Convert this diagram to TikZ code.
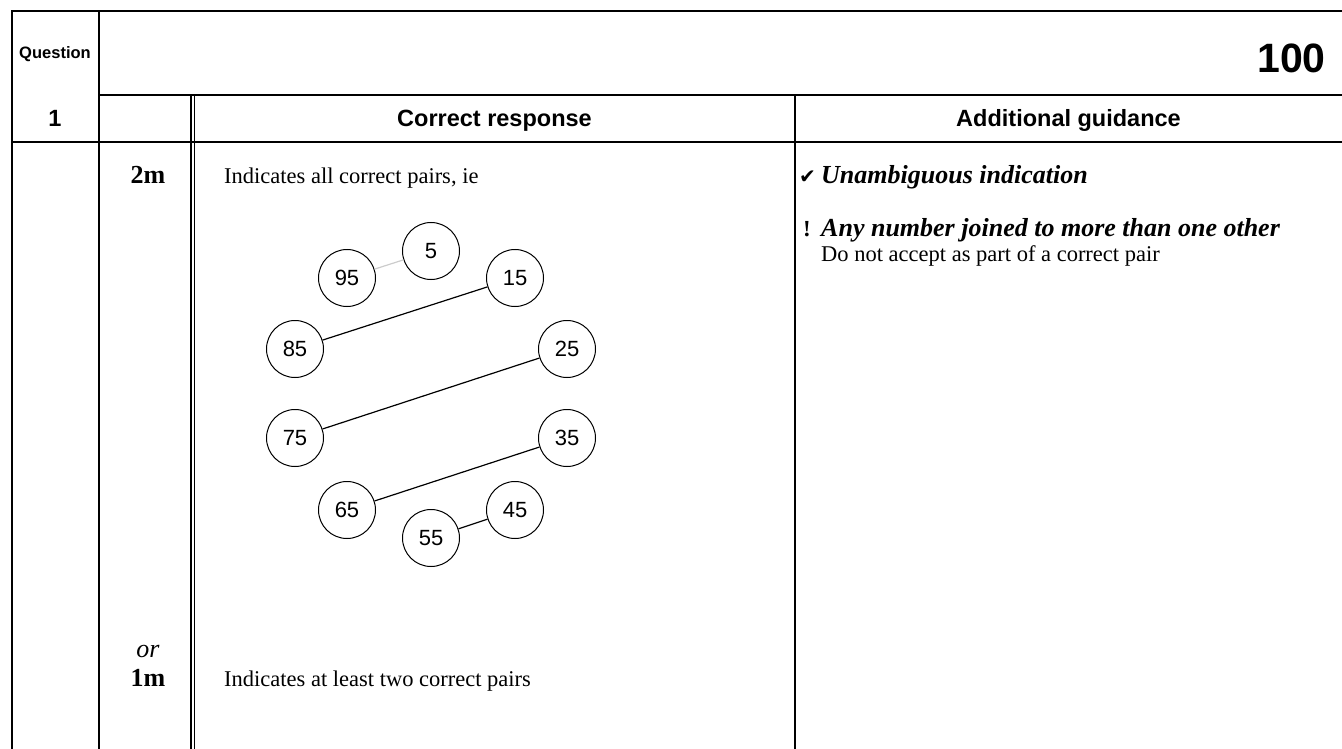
\documentclass[tikz,border=0pt]{standalone}
\usepackage{fontspec}
\setmainfont{Liberation Serif}
\setsansfont{Liberation Sans}
\newfontfamily\symfont{DejaVu Sans}
\usetikzlibrary{positioning}

\begin{document}
\begin{tikzpicture}[x=1pt,y=-1pt,
  rule/.style={line width=1.3pt},
  heavyrule/.style={line width=2.6pt},
  num/.style={draw,circle,minimum size=57pt,inner sep=0pt,line width=1pt,fill=white,
    font=\sffamily\fontsize{22}{22}\selectfont},
  pairline/.style={line width=1.2pt},
  head/.style={anchor=base,inner sep=0pt,font=\sffamily\bfseries\fontsize{23.5}{23.5}\selectfont},
  body/.style={anchor=base west,inner sep=0pt,font=\fontsize{22.5}{22.5}\selectfont},
  hint/.style={anchor=base west,inner sep=0pt,font=\bfseries\itshape\fontsize{26}{26}\selectfont},
  markcol/.style={anchor=base,inner sep=0pt,font=\fontsize{26}{26}\selectfont}]
\useasboundingbox (0,0) rectangle (1342,749);
% table rules
\draw[heavyrule,line join=miter] (12,749) -- (12,11) -- (1342,11);
\draw[heavyrule] (99,11) -- (99,749);
\draw[rule] (99,95) -- (1342,95);
\draw[heavyrule] (12,142) -- (1342,142);
\draw[rule] (191,95) -- (191,749);
\draw[rule] (194.5,95) -- (194.5,749);
\draw[rule] (795,95) -- (795,749);
% header texts
\node[anchor=base,inner sep=0pt,font=\sffamily\bfseries\fontsize{16.5}{16.5}\selectfont] (qlabel) at (55,59) {Question};
\node[anchor=base east,inner sep=0pt,font=\sffamily\bfseries\fontsize{41}{41}\selectfont] (qnum) at (1326,73) {100};
\node[head] (qpart) at (55,127) {1};
\node[head] (crhead) at (494.5,127) {Correct response};
\node[head] (aghead) at (1068.5,127) {Additional guidance};
% marks column
\node[markcol] (twom) at (148,183) {\bfseries 2m};
\node[markcol] (orlabel) at (148,657) {\itshape or};
\node[markcol] (onem) at (148,686) {\bfseries 1m};
% correct response
\node[body] (allpairs) at (224,183) {Indicates all correct pairs, ie};
\node[body] (twopairs) at (224,686) {Indicates at least two correct pairs};
% number circles
\node[num] (n5) at (431,251) {5};
\node[num] (n95) at (347,278) {95};
\node[num] (n15) at (515,278) {15};
\node[num] (n85) at (295,349) {85};
\node[num] (n25) at (567,349) {25};
\node[num] (n75) at (295,438) {75};
\node[num] (n35) at (567,438) {35};
\node[num] (n65) at (347,510) {65};
\node[num] (n45) at (515,510) {45};
\node[num] (n55) at (431,538) {55};
\draw[pairline,black!20] (n95) -- (n5);
\draw[pairline] (n85) -- (n15);
\draw[pairline] (n75) -- (n25);
\draw[pairline] (n65) -- (n35);
\draw[pairline] (n55) -- (n45);
% additional guidance
\node[body,font=\symfont\fontsize{20}{20}\selectfont] (tick) at (799,183) {✔};
\node[hint] (unamb) at (821,183) {Unambiguous indication};
\node[body,font=\bfseries\fontsize{23}{23}\selectfont] (bang) at (803,236) {!};
\node[hint] (anynum) at (821,236) {Any number joined to more than one other};
\node[body] (noaccept) at (821,261) {Do not accept as part of a correct pair};
\end{tikzpicture}
\end{document}
